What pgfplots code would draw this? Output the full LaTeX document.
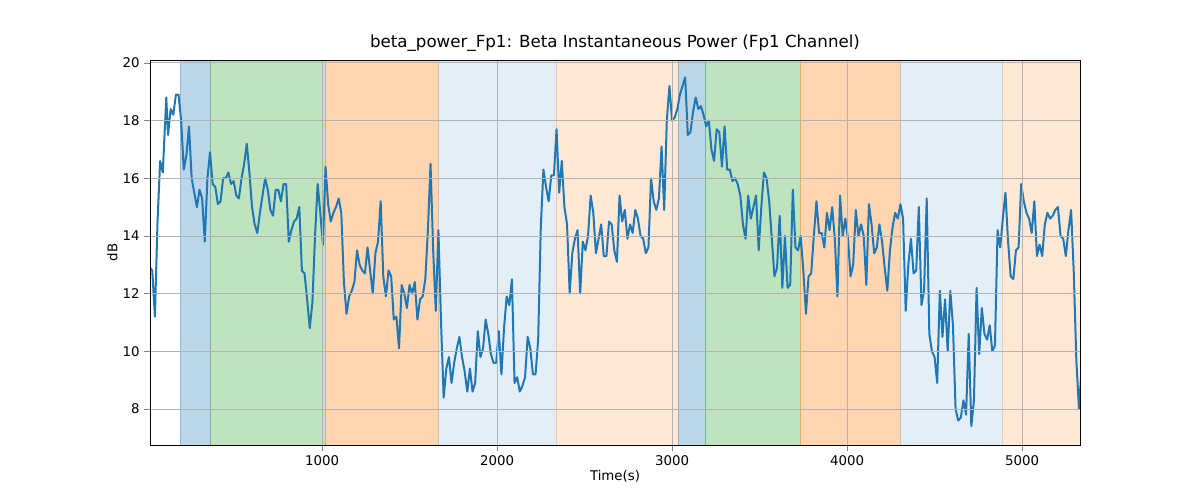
\documentclass[border=0pt]{standalone}
\usepackage{pgfplots}
\pgfplotsset{compat=1.18}
\usepackage{fontspec}
\setmainfont{DejaVu Sans}
\definecolor{tb}{HTML}{1F77B4}
\definecolor{tg}{HTML}{2CA02C}
\definecolor{to}{HTML}{FF7F0E}
\begin{document}
\begin{tikzpicture}
\begin{axis}[at={(0,0)},anchor=south west,scale only axis,width=697.5pt,height=288.75pt,
xmin=17,xmax=5331,ymin=6.75,ymax=20.1,
xtick={1000,2000,3000,4000,5000},ytick={8,10,12,14,16,18,20},
grid=major,grid style={gray!60,line width=0.6pt},axis on top,
/pgf/number format/assume math mode=true,
ticklabel style={font=\fontsize{10pt}{12pt}\selectfont},
label style={font=\fontsize{10pt}{12pt}\selectfont},
xlabel={Time(s)},ylabel={dB},
xlabel style={yshift=3pt},ylabel style={yshift=-3pt},
title={beta\_power\_Fp1: Beta Instantaneous Power (Fp1 Channel)},
title style={font=\fontsize{12.5pt}{14pt}\selectfont,yshift=-3pt},
tick align=outside,tick pos=left,
scaled x ticks=false,xticklabel style={/pgf/number format/set thousands separator={}}]
\addplot[fill=tb,fill opacity=0.3,draw=tb,draw opacity=0.3] coordinates {(189,6.75)(189,20.1)(360,20.1)(360,6.75)} --cycle;
\addplot[fill=tg,fill opacity=0.3,draw=tg,draw opacity=0.3] coordinates {(360,6.75)(360,20.1)(1017,20.1)(1017,6.75)} --cycle;
\addplot[fill=to,fill opacity=0.32,draw=to,draw opacity=0.3] coordinates {(1017,6.75)(1017,20.1)(1663,20.1)(1663,6.75)} --cycle;
\addplot[fill=tb,fill opacity=0.12,draw=tb,draw opacity=0.12] coordinates {(1663,6.75)(1663,20.1)(2337,20.1)(2337,6.75)} --cycle;
\addplot[fill=to,fill opacity=0.17,draw=to,draw opacity=0.17] coordinates {(2337,6.75)(2337,20.1)(3034,20.1)(3034,6.75)} --cycle;
\addplot[fill=tb,fill opacity=0.3,draw=tb,draw opacity=0.3] coordinates {(3034,6.75)(3034,20.1)(3189,20.1)(3189,6.75)} --cycle;
\addplot[fill=tg,fill opacity=0.3,draw=tg,draw opacity=0.3] coordinates {(3189,6.75)(3189,20.1)(3731,20.1)(3731,6.75)} --cycle;
\addplot[fill=to,fill opacity=0.32,draw=to,draw opacity=0.3] coordinates {(3731,6.75)(3731,20.1)(4303,20.1)(4303,6.75)} --cycle;
\addplot[fill=tb,fill opacity=0.12,draw=tb,draw opacity=0.12] coordinates {(4303,6.75)(4303,20.1)(4886,20.1)(4886,6.75)} --cycle;
\addplot[fill=to,fill opacity=0.17,draw=to,draw opacity=0.17] coordinates {(4886,6.75)(4886,20.1)(5331,20.1)(5331,6.75)} --cycle;
\addplot[tb,line width=1.5pt,line join=round] coordinates {
(17,12.9)(30,12.8)(45,11.2)(60,14.5)(75,16.6)(90,16.2)(100,17.5)(110,18.8)(120,17.5)(135,18.4)(150,18.2)(165,18.9)(180,18.9)(195,18.0)(210,16.3)(225,16.8)(240,17.8)(255,16.0)(270,15.5)(285,15.0)(300,15.6)(315,15.3)(330,13.8)(345,16.0)(360,16.9)(375,15.8)(390,15.7)(405,15.1)(420,15.2)(435,16.0)(450,16.0)(465,16.2)(480,15.8)(495,15.9)(510,15.4)(525,15.3)(540,16.0)(555,16.5)(570,17.2)(585,16.2)(600,15.0)(615,14.4)(630,14.1)(645,14.8)(660,15.4)(675,16.0)(690,15.6)(705,14.9)(720,14.7)(735,15.6)(750,15.6)(765,15.2)(780,15.8)(795,15.8)(810,13.8)(825,14.2)(840,14.5)(855,14.6)(870,15.0)(885,12.8)(900,12.7)(915,11.8)(930,10.8)(945,11.7)(960,14.0)(975,15.8)(990,14.8)(1005,13.7)(1020,16.4)(1035,15.1)(1050,14.5)(1065,14.8)(1080,15.0)(1095,15.3)(1110,14.8)(1125,12.4)(1140,11.3)(1155,11.9)(1170,12.1)(1185,12.4)(1200,13.5)(1215,13.0)(1230,12.8)(1245,12.7)(1260,13.6)(1275,12.8)(1290,12.0)(1305,13.4)(1320,13.8)(1335,15.2)(1350,12.6)(1365,11.9)(1380,12.8)(1395,12.6)(1410,11.1)(1425,11.2)(1440,10.1)(1455,12.3)(1470,12.0)(1485,11.5)(1500,12.3)(1515,12.0)(1530,12.4)(1545,11.1)(1560,11.8)(1575,11.9)(1590,12.5)(1605,14.2)(1620,16.5)(1635,13.5)(1650,11.4)(1665,14.2)(1680,11.0)(1695,8.4)(1710,9.4)(1725,9.8)(1740,8.9)(1755,9.6)(1770,10.1)(1785,10.5)(1800,9.8)(1815,9.3)(1830,8.6)(1845,9.4)(1860,8.6)(1875,8.9)(1890,10.7)(1905,9.8)(1920,10.1)(1935,11.1)(1950,10.6)(1965,9.9)(1980,9.6)(1995,9.6)(2010,10.7)(2025,9.2)(2040,10.8)(2055,11.9)(2070,11.6)(2085,12.5)(2100,8.9)(2115,9.1)(2130,8.6)(2145,8.8)(2160,9.1)(2175,10.5)(2190,10.1)(2205,9.2)(2220,9.2)(2235,10.4)(2250,14.3)(2265,16.3)(2280,15.7)(2295,15.2)(2310,16.1)(2325,16.1)(2340,17.7)(2355,15.5)(2370,16.6)(2385,15.0)(2400,14.4)(2415,12.0)(2430,13.4)(2445,13.9)(2460,14.2)(2475,12.0)(2490,13.8)(2505,13.5)(2520,14.0)(2535,15.4)(2550,14.8)(2565,13.4)(2580,13.9)(2595,14.4)(2610,13.3)(2625,13.3)(2640,14.5)(2655,14.4)(2670,13.5)(2685,13.1)(2700,15.4)(2715,14.5)(2730,14.9)(2745,13.9)(2760,14.4)(2775,14.1)(2790,14.9)(2805,14.6)(2820,14.0)(2835,13.9)(2850,13.4)(2865,13.6)(2880,16.0)(2895,15.2)(2910,14.9)(2925,15.3)(2940,17.1)(2955,14.9)(2970,18.0)(2985,19.2)(3000,18.0)(3015,18.1)(3030,18.4)(3045,18.9)(3060,19.2)(3075,19.5)(3090,17.5)(3105,17.6)(3120,18.3)(3135,18.8)(3150,18.4)(3165,18.5)(3180,18.2)(3195,17.8)(3210,18.0)(3225,17.0)(3240,16.6)(3255,17.7)(3270,17.6)(3285,16.4)(3300,17.8)(3315,16.3)(3330,16.3)(3345,15.9)(3360,16.0)(3375,15.8)(3390,15.4)(3405,14.4)(3420,13.9)(3435,15.4)(3450,14.6)(3465,15.0)(3480,15.4)(3495,13.5)(3510,15.0)(3525,16.2)(3540,16.0)(3555,15.2)(3570,13.9)(3585,12.6)(3600,12.9)(3615,14.7)(3630,12.2)(3645,14.0)(3660,12.2)(3675,12.3)(3690,15.6)(3705,13.6)(3720,13.5)(3735,14.0)(3750,12.8)(3765,11.3)(3780,12.6)(3795,12.7)(3810,14.0)(3825,15.2)(3840,14.1)(3855,14.1)(3870,13.6)(3885,14.8)(3900,14.2)(3915,15.0)(3930,13.9)(3945,11.9)(3960,15.4)(3975,14.0)(3990,14.6)(4005,13.9)(4020,12.6)(4035,13.0)(4050,14.9)(4065,14.0)(4080,14.4)(4095,14.0)(4110,12.3)(4125,15.1)(4140,14.4)(4155,13.4)(4170,13.6)(4185,14.4)(4200,13.8)(4215,12.9)(4230,12.1)(4245,13.5)(4260,14.3)(4275,14.8)(4290,14.6)(4305,15.1)(4320,14.6)(4335,11.4)(4350,13.0)(4365,13.9)(4380,12.7)(4395,12.8)(4410,15.0)(4425,11.6)(4440,12.1)(4455,15.3)(4470,10.6)(4485,10.0)(4500,9.8)(4515,8.9)(4530,12.1)(4545,10.5)(4560,11.8)(4575,10.0)(4590,12.1)(4605,10.9)(4620,8.0)(4635,7.6)(4650,7.7)(4665,8.3)(4680,7.8)(4695,10.6)(4710,7.4)(4725,8.3)(4740,12.2)(4755,9.9)(4770,11.5)(4785,10.6)(4800,10.4)(4815,10.9)(4830,10.0)(4845,10.2)(4860,14.2)(4875,13.6)(4890,14.6)(4905,15.5)(4920,13.8)(4935,12.6)(4950,12.5)(4965,13.5)(4980,13.6)(4995,15.8)(5010,15.2)(5025,14.8)(5040,14.6)(5055,14.1)(5070,15.2)(5085,13.3)(5100,13.7)(5115,13.3)(5130,14.4)(5145,14.8)(5160,14.6)(5175,14.7)(5190,14.9)(5205,15.0)(5220,14.0)(5235,13.9)(5250,13.3)(5265,14.2)(5280,14.9)(5295,12.8)(5310,9.7)(5325,8.0)(5340,9.4)};
\end{axis}
\path[use as bounding box] (-112.5pt,-41.25pt) rectangle (787.5pt,333.75pt);
\end{tikzpicture}
\end{document}
